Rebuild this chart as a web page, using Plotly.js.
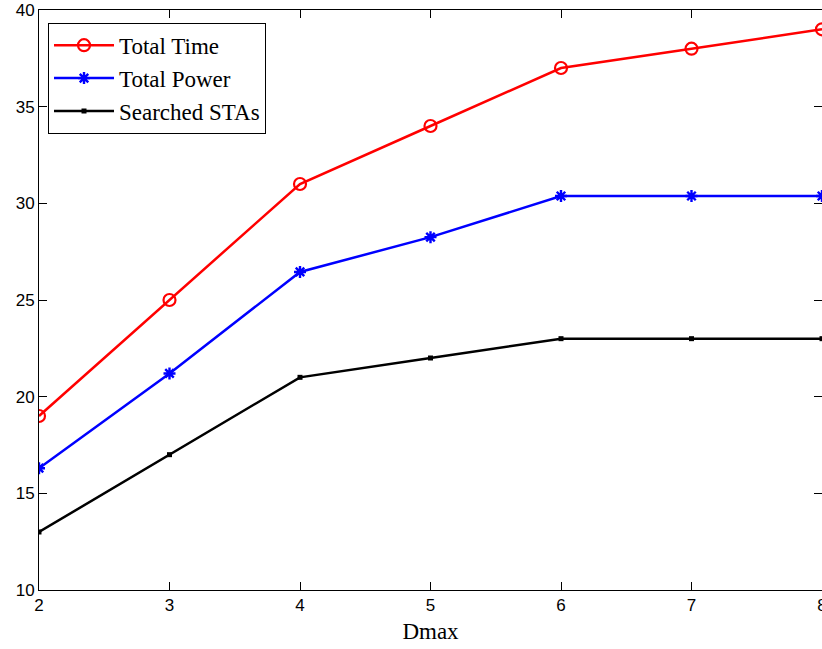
<!DOCTYPE html>
<html><head><meta charset="utf-8">
<script src="https://cdn.plot.ly/plotly-3.0.1.min.js"></script>
<style>html,body{margin:0;padding:0;overflow:hidden;background:#fff}</style>
</head><body>
<div id="chart" style="width:832px;height:649px"></div>
<script>
var dmax = [2, 3, 4, 5, 6, 7, 8];
var totalTime = [19, 25, 31, 34, 37, 38, 39];
var totalPower = [16.3, 21.2, 26.45, 28.25, 30.38, 30.38, 30.38];
var searchedSTAs = [13, 17, 21, 22, 23, 23, 23];
var seriesNames = ['Total Time', 'Total Power', 'Searched STAs'];

var traces = [
  {x: dmax, y: totalTime, name: seriesNames[0], mode: 'lines+markers',
   line: {color: '#ff0000', width: 2.5},
   marker: {symbol: 'circle-open', size: 12, color: '#ff0000', line: {width: 2.2, color: '#ff0000'}}},
  {x: dmax, y: totalPower, name: seriesNames[1], mode: 'lines+markers',
   line: {color: '#0000ff', width: 2.5},
   marker: {symbol: 'asterisk-open', size: 10, color: '#0000ff', line: {width: 2.4, color: '#0000ff'}}},
  {x: dmax, y: searchedSTAs, name: seriesNames[2], mode: 'lines+markers',
   line: {color: '#000000', width: 2.5},
   marker: {symbol: 'square', size: 5, color: '#000000'}}
];

var axisCommon = {
  showgrid: false, zeroline: false, showline: true, linecolor: '#000', linewidth: 1,
  mirror: 'ticks', ticks: 'inside', ticklen: 8, tickcolor: '#000', tickwidth: 1,
  tickfont: {family: 'Liberation Sans, Arial, sans-serif', size: 17, color: '#000'}
};

var layout = {
  width: 832, height: 649,
  margin: {l: 39, r: 10, t: 10, b: 59},
  paper_bgcolor: '#fff', plot_bgcolor: '#fff',
  showlegend: true,
  xaxis: Object.assign({}, axisCommon, {
    range: [2, 8], tickvals: dmax, ticktext: dmax.map(String),
    title: {text: 'Dmax', standoff: 8, font: {family: 'Liberation Serif, Times New Roman, serif', size: 23, color: '#000'}}
  }),
  yaxis: Object.assign({}, axisCommon, {
    range: [10, 40], tickvals: [10, 15, 20, 25, 30, 35, 40]
  }),
  legend: {
    x: 0.0115, y: 0.978, xanchor: 'left', yanchor: 'top',
    bgcolor: '#fff', bordercolor: '#000', borderwidth: 1,
    itemwidth: 60, tracegroupgap: 0,
    font: {family: 'Liberation Serif, Times New Roman, serif', size: 23, color: '#000'}
  }
};

Plotly.newPlot('chart', traces, layout, {displayModeBar: false, staticPlot: true});
</script>
</body></html>
